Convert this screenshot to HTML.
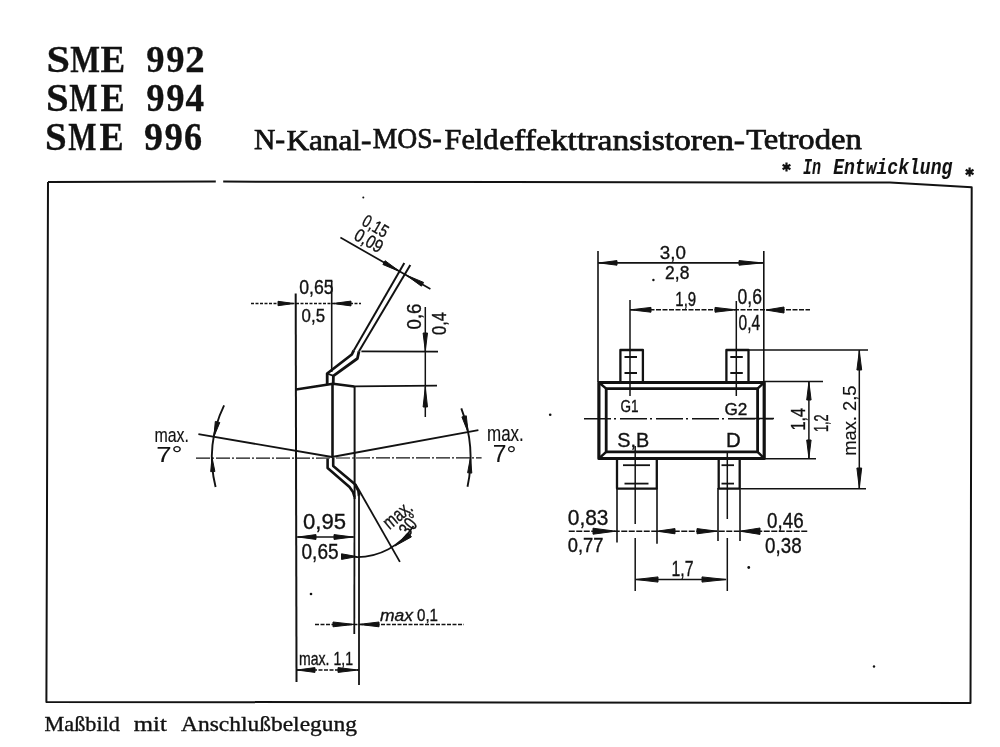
<!DOCTYPE html>
<html><head><meta charset="utf-8">
<style>
html,body{margin:0;padding:0;background:#fff;}
body{width:1000px;height:747px;position:relative;overflow:hidden;}
svg{position:absolute;left:0;top:0;will-change:transform;}
</style></head><body>
<svg width="1000" height="747" viewBox="0 0 1000 747">
<text x="46.50" y="71.60" font-size="38.32" textLength="23.50" lengthAdjust="spacingAndGlyphs" font-family="Liberation Serif" font-weight="bold" font-style="normal" fill="#121212" stroke="#121212" stroke-width="0.3">S</text>
<text x="70.20" y="71.60" font-size="38.32" textLength="29.70" lengthAdjust="spacingAndGlyphs" font-family="Liberation Serif" font-weight="bold" font-style="normal" fill="#121212" stroke="#121212" stroke-width="0.3">M</text>
<text x="100.40" y="71.60" font-size="38.32" textLength="24.70" lengthAdjust="spacingAndGlyphs" font-family="Liberation Serif" font-weight="bold" font-style="normal" fill="#121212" stroke="#121212" stroke-width="0.3">E</text>
<text x="146.20" y="71.60" font-size="38.32" textLength="18.30" lengthAdjust="spacingAndGlyphs" font-family="Liberation Serif" font-weight="bold" font-style="normal" fill="#121212" stroke="#121212" stroke-width="0.3">9</text>
<text x="166.20" y="71.60" font-size="38.32" textLength="18.30" lengthAdjust="spacingAndGlyphs" font-family="Liberation Serif" font-weight="bold" font-style="normal" fill="#121212" stroke="#121212" stroke-width="0.3">9</text>
<text x="185.20" y="71.60" font-size="38.32" textLength="19.40" lengthAdjust="spacingAndGlyphs" font-family="Liberation Serif" font-weight="bold" font-style="normal" fill="#121212" stroke="#121212" stroke-width="0.3">2</text>
<text x="46.00" y="110.90" font-size="39.39" textLength="22.70" lengthAdjust="spacingAndGlyphs" font-family="Liberation Serif" font-weight="bold" font-style="normal" fill="#121212" stroke="#121212" stroke-width="0.3">S</text>
<text x="69.20" y="110.90" font-size="39.39" textLength="28.20" lengthAdjust="spacingAndGlyphs" font-family="Liberation Serif" font-weight="bold" font-style="normal" fill="#121212" stroke="#121212" stroke-width="0.3">M</text>
<text x="100.40" y="110.90" font-size="39.39" textLength="24.20" lengthAdjust="spacingAndGlyphs" font-family="Liberation Serif" font-weight="bold" font-style="normal" fill="#121212" stroke="#121212" stroke-width="0.3">E</text>
<text x="146.20" y="110.90" font-size="39.39" textLength="18.30" lengthAdjust="spacingAndGlyphs" font-family="Liberation Serif" font-weight="bold" font-style="normal" fill="#121212" stroke="#121212" stroke-width="0.3">9</text>
<text x="166.20" y="110.90" font-size="39.39" textLength="18.30" lengthAdjust="spacingAndGlyphs" font-family="Liberation Serif" font-weight="bold" font-style="normal" fill="#121212" stroke="#121212" stroke-width="0.3">9</text>
<text x="185.60" y="110.90" font-size="39.39" textLength="18.60" lengthAdjust="spacingAndGlyphs" font-family="Liberation Serif" font-weight="bold" font-style="normal" fill="#121212" stroke="#121212" stroke-width="0.3">4</text>
<text x="45.00" y="150.40" font-size="39.39" textLength="21.70" lengthAdjust="spacingAndGlyphs" font-family="Liberation Serif" font-weight="bold" font-style="normal" fill="#121212" stroke="#121212" stroke-width="0.3">S</text>
<text x="68.20" y="150.40" font-size="39.39" textLength="28.20" lengthAdjust="spacingAndGlyphs" font-family="Liberation Serif" font-weight="bold" font-style="normal" fill="#121212" stroke="#121212" stroke-width="0.3">M</text>
<text x="99.40" y="150.40" font-size="39.39" textLength="24.20" lengthAdjust="spacingAndGlyphs" font-family="Liberation Serif" font-weight="bold" font-style="normal" fill="#121212" stroke="#121212" stroke-width="0.3">E</text>
<text x="144.00" y="150.40" font-size="39.39" textLength="19.00" lengthAdjust="spacingAndGlyphs" font-family="Liberation Serif" font-weight="bold" font-style="normal" fill="#121212" stroke="#121212" stroke-width="0.3">9</text>
<text x="164.60" y="150.40" font-size="39.39" textLength="18.40" lengthAdjust="spacingAndGlyphs" font-family="Liberation Serif" font-weight="bold" font-style="normal" fill="#121212" stroke="#121212" stroke-width="0.3">9</text>
<text x="184.00" y="150.40" font-size="39.39" textLength="18.10" lengthAdjust="spacingAndGlyphs" font-family="Liberation Serif" font-weight="bold" font-style="normal" fill="#121212" stroke="#121212" stroke-width="0.3">6</text>
<text x="254.00" y="149.00" font-size="29.92" textLength="31.20" lengthAdjust="spacingAndGlyphs" font-family="Liberation Serif" font-weight="normal" font-style="normal" fill="#121212" stroke="#121212" stroke-width="0.75">N-</text>
<text x="286.40" y="150.00" font-size="29.92" textLength="85.00" lengthAdjust="spacingAndGlyphs" font-family="Liberation Serif" font-weight="normal" font-style="normal" fill="#121212" stroke="#121212" stroke-width="0.75">Kanal-</text>
<text x="372.80" y="148.40" font-size="29.92" textLength="69.00" lengthAdjust="spacingAndGlyphs" font-family="Liberation Serif" font-weight="normal" font-style="normal" fill="#121212" stroke="#121212" stroke-width="0.75">MOS-</text>
<text x="444.60" y="149.40" font-size="29.92" textLength="53.80" lengthAdjust="spacingAndGlyphs" font-family="Liberation Serif" font-weight="normal" font-style="normal" fill="#121212" stroke="#121212" stroke-width="0.75">Feld</text>
<text x="499.20" y="150.40" font-size="29.92" textLength="245.80" lengthAdjust="spacingAndGlyphs" font-family="Liberation Serif" font-weight="normal" font-style="normal" fill="#121212" stroke="#121212" stroke-width="0.75">effekttransistoren-</text>
<text x="746.20" y="149.40" font-size="29.92" textLength="115.60" lengthAdjust="spacingAndGlyphs" font-family="Liberation Serif" font-weight="normal" font-style="normal" fill="#121212" stroke="#121212" stroke-width="0.75">Tetroden</text>
<text x="803.00" y="173.50" font-size="21.70" textLength="18.00" lengthAdjust="spacingAndGlyphs" font-family="Liberation Mono" font-weight="bold" font-style="italic" fill="#121212" stroke="#121212" stroke-width="0.1">In</text>
<text x="833.20" y="173.60" font-size="21.70" textLength="119.20" lengthAdjust="spacingAndGlyphs" font-family="Liberation Mono" font-weight="bold" font-style="italic" fill="#121212" stroke="#121212" stroke-width="0.1">Entwicklung</text>
<path d="M786.5 162.5 L786.5 171.5 M782.6 164.8 L790.4 169.2 M790.4 164.8 L782.6 169.2 " stroke="#121212" stroke-width="2.2" fill="none" stroke-linejoin="round"/>
<path d="M969.6 167.5 L969.6 176.5 M965.7 169.8 L973.5 174.2 M973.5 169.8 L965.7 174.2 " stroke="#121212" stroke-width="2.2" fill="none" stroke-linejoin="round"/>
<text x="44.60" y="730.60" font-size="20.76" textLength="75.40" lengthAdjust="spacingAndGlyphs" font-family="Liberation Serif" font-weight="normal" font-style="normal" fill="#121212" stroke="#121212" stroke-width="0.35">Maßbild</text>
<text x="133.80" y="730.60" font-size="20.76" textLength="33.00" lengthAdjust="spacingAndGlyphs" font-family="Liberation Serif" font-weight="normal" font-style="normal" fill="#121212" stroke="#121212" stroke-width="0.35">mit</text>
<text x="181.00" y="730.60" font-size="20.76" textLength="176.00" lengthAdjust="spacingAndGlyphs" font-family="Liberation Serif" font-weight="normal" font-style="normal" fill="#121212" stroke="#121212" stroke-width="0.35">Anschlußbelegung</text>
<path d="M48 182 L215.8 181.4" stroke="#121212" stroke-width="2.0" fill="none" stroke-linejoin="round"/>
<path d="M223.2 181.6 L890 182.6 L971.7 187.3 L970.5 702.9 L46.4 701.9 L48 182" stroke="#121212" stroke-width="2.0" fill="none" stroke-linejoin="round"/>
<line x1="295.7" y1="293.5" x2="296.5" y2="682" stroke="#121212" stroke-width="2.0"/>
<line x1="331.7" y1="281" x2="331.7" y2="372" stroke="#121212" stroke-width="1.6"/>
<line x1="251" y1="303.5" x2="361" y2="303.5" stroke="#121212" stroke-width="1.4" stroke-dasharray="3,1.5"/>
<polygon points="294.0,303.5 278.0,301.3 278.0,305.7" fill="#121212" stroke="#121212" stroke-width="1" stroke-linejoin="round"/>
<polygon points="333.0,303.5 351.0,305.9 351.0,301.1" fill="#121212" stroke="#121212" stroke-width="1" stroke-linejoin="round"/>
<path d="M404.3 263 L353.8 350.4" stroke="#121212" stroke-width="2.0" fill="none" stroke-linejoin="round"/>
<path d="M353.8 350.4 L351.8 354.5 L327.2 373.5 L327.2 384" stroke="#121212" stroke-width="2.8" fill="none" stroke-linejoin="round"/>
<path d="M410.3 265 L359 351.2" stroke="#121212" stroke-width="2.0" fill="none" stroke-linejoin="round"/>
<path d="M359 351.2 L357.4 358.5 L333.4 375.8 L333.2 384" stroke="#121212" stroke-width="2.8" fill="none" stroke-linejoin="round"/>
<path d="M327.2 373.5 L333.4 375.8" stroke="#121212" stroke-width="1.8" fill="none" stroke-linejoin="round"/>
<line x1="340.4" y1="237.5" x2="430.4" y2="289" stroke="#121212" stroke-width="1.7"/>
<polygon points="400.0,271.7 385.1,260.7 382.9,264.5" fill="#121212" stroke="#121212" stroke-width="1" stroke-linejoin="round"/>
<polygon points="406.0,275.0 421.4,286.2 423.6,282.4" fill="#121212" stroke="#121212" stroke-width="1" stroke-linejoin="round"/>
<line x1="361.4" y1="351.4" x2="438" y2="351.6" stroke="#121212" stroke-width="1.6"/>
<line x1="354" y1="386.4" x2="437" y2="385.7" stroke="#121212" stroke-width="1.8"/>
<line x1="425.3" y1="307" x2="425.3" y2="417" stroke="#121212" stroke-width="1.5"/>
<polygon points="425.3,351.0 427.5,333.0 423.1,333.0" fill="#121212" stroke="#121212" stroke-width="1" stroke-linejoin="round"/>
<polygon points="425.3,387.0 423.1,407.0 427.5,407.0" fill="#121212" stroke="#121212" stroke-width="1" stroke-linejoin="round"/>
<path d="M296 389.5 L333 383.8 L354.2 386.6" stroke="#121212" stroke-width="2.5" fill="none" stroke-linejoin="round"/>
<line x1="332.5" y1="384" x2="332.5" y2="456.5" stroke="#121212" stroke-width="2.6"/>
<line x1="354.6" y1="386" x2="354.6" y2="499" stroke="#121212" stroke-width="2.0"/>
<path d="M198.4 434.2 L332 457 L478.4 430.2" stroke="#121212" stroke-width="1.8" fill="none" stroke-linejoin="round"/>
<line x1="196" y1="458.2" x2="481.6" y2="457.8" stroke="#121212" stroke-width="1.2" stroke-dasharray="14,2,2,2"/>
<path d="M327.6 458.5 L327.6 468 L349.5 487 L353 492 L354.5 497" stroke="#121212" stroke-width="2.6" fill="none" stroke-linejoin="round"/>
<line x1="354.5" y1="497" x2="354.3" y2="634" stroke="#121212" stroke-width="1.8"/>
<path d="M333.2 458 L333.2 466 L354.4 483.7 L358.4 491 L359 496" stroke="#121212" stroke-width="2.6" fill="none" stroke-linejoin="round"/>
<line x1="359" y1="496" x2="359" y2="685" stroke="#121212" stroke-width="1.8"/>
<line x1="355.5" y1="484" x2="399.9" y2="561.9" stroke="#121212" stroke-width="1.8"/>
<path d="M215.6 487.0 A120 120 0 0 1 224.1 405.4" stroke="#121212" stroke-width="1.9" fill="none" stroke-linejoin="round"/>
<path d="M461.3 408.4 A138.5 138.5 0 0 1 467.5 486.8" stroke="#121212" stroke-width="1.9" fill="none" stroke-linejoin="round"/>
<polygon points="213.9,436.7 219.8,422.5 215.3,421.4" fill="#121212" stroke="#121212" stroke-width="1" stroke-linejoin="round"/>
<polygon points="212.0,457.4 210.7,471.7 214.9,471.5" fill="#121212" stroke="#121212" stroke-width="1" stroke-linejoin="round"/>
<polygon points="468.1,432.5 466.3,415.8 461.9,416.9" fill="#121212" stroke="#121212" stroke-width="1" stroke-linejoin="round"/>
<polygon points="470.5,457.5 467.6,472.8 471.8,473.1" fill="#121212" stroke="#121212" stroke-width="1" stroke-linejoin="round"/>
<line x1="296.5" y1="537" x2="355" y2="537" stroke="#121212" stroke-width="1.6"/>
<polygon points="298.0,537.0 316.0,539.4 316.0,534.6" fill="#121212" stroke="#121212" stroke-width="1" stroke-linejoin="round"/>
<polygon points="353.0,537.0 334.0,534.6 334.0,539.4" fill="#121212" stroke="#121212" stroke-width="1" stroke-linejoin="round"/>
<polygon points="357.0,556.6 341.5,553.8 341.5,559.4" fill="#121212" stroke="#121212" stroke-width="1" stroke-linejoin="round"/>
<path d="M413.5 526.0 A67 67 0 0 1 355.2 557.0" stroke="#121212" stroke-width="1.7" fill="none" stroke-linejoin="round"/>
<polygon points="395.0,546.0 411.4,536.9 408.6,533.1" fill="#121212" stroke="#121212" stroke-width="1" stroke-linejoin="round"/>
<line x1="315" y1="624.4" x2="464" y2="624.4" stroke="#121212" stroke-width="1.5" stroke-dasharray="4,1.5"/>
<polygon points="354.0,624.4 333.0,622.0 333.0,626.8" fill="#121212" stroke="#121212" stroke-width="1" stroke-linejoin="round"/>
<polygon points="359.0,624.4 379.0,626.8 379.0,622.0" fill="#121212" stroke="#121212" stroke-width="1" stroke-linejoin="round"/>
<line x1="296.5" y1="670" x2="359" y2="670" stroke="#121212" stroke-width="1.5" stroke-dasharray="4,1.5"/>
<polygon points="297.0,670.0 315.0,672.4 315.0,667.6" fill="#121212" stroke="#121212" stroke-width="1" stroke-linejoin="round"/>
<polygon points="358.0,670.0 338.0,667.6 338.0,672.4" fill="#121212" stroke="#121212" stroke-width="1" stroke-linejoin="round"/>
<line x1="598" y1="251" x2="598" y2="382" stroke="#121212" stroke-width="1.6"/>
<line x1="763.8" y1="251" x2="763.8" y2="459" stroke="#121212" stroke-width="1.6"/>
<line x1="598" y1="262.9" x2="763.8" y2="262.9" stroke="#121212" stroke-width="1.7"/>
<polygon points="599.0,262.9 617.0,265.2 617.0,260.6" fill="#121212" stroke="#121212" stroke-width="1" stroke-linejoin="round"/>
<polygon points="762.5,262.9 739.0,260.6 739.0,265.2" fill="#121212" stroke="#121212" stroke-width="1" stroke-linejoin="round"/>
<circle cx="653.4" cy="280" r="1.2" fill="#121212"/>
<line x1="630" y1="300" x2="630" y2="396" stroke="#121212" stroke-width="1.5"/>
<line x1="736.3" y1="301" x2="736.3" y2="396" stroke="#121212" stroke-width="1.5"/>
<line x1="630" y1="309.8" x2="810" y2="309.8" stroke="#121212" stroke-width="1.4" stroke-dasharray="5,1.5"/>
<polygon points="630.5,309.8 651.0,312.2 651.0,307.4" fill="#121212" stroke="#121212" stroke-width="1" stroke-linejoin="round"/>
<polygon points="735.5,309.8 715.0,307.4 715.0,312.2" fill="#121212" stroke="#121212" stroke-width="1" stroke-linejoin="round"/>
<polygon points="766.0,310.0 784.0,313.0 784.0,307.0" fill="#121212" stroke="#121212" stroke-width="1" stroke-linejoin="round"/>
<path d="M620.4 381.8 L620.4 350 L642.9 350 L642.9 381.8" stroke="#121212" stroke-width="2.3" fill="none" stroke-linejoin="round"/>
<path d="M726.4 381.8 L726.4 350 L748.5 350 L748.5 381.8" stroke="#121212" stroke-width="2.3" fill="none" stroke-linejoin="round"/>
<line x1="624.5" y1="357" x2="637.0" y2="357" stroke="#121212" stroke-width="2.0"/>
<line x1="624.5" y1="373" x2="637.0" y2="373" stroke="#121212" stroke-width="2.0"/>
<line x1="730.3" y1="357" x2="742.8" y2="357" stroke="#121212" stroke-width="2.0"/>
<line x1="730.3" y1="373" x2="742.8" y2="373" stroke="#121212" stroke-width="2.0"/>
<path d="M617 458.7 L617 488.6 L656.8 488.6 L656.8 458.7" stroke="#121212" stroke-width="2.3" fill="none" stroke-linejoin="round"/>
<path d="M718.7 458.7 L718.7 488.6 L739.7 488.6 L739.7 458.7" stroke="#121212" stroke-width="2.3" fill="none" stroke-linejoin="round"/>
<line x1="635.2" y1="446" x2="635.2" y2="524" stroke="#121212" stroke-width="1.5"/>
<line x1="635.2" y1="538" x2="635.2" y2="591" stroke="#121212" stroke-width="1.5"/>
<line x1="727.3" y1="452" x2="727.3" y2="519" stroke="#121212" stroke-width="1.5"/>
<line x1="727.3" y1="538" x2="727.3" y2="591" stroke="#121212" stroke-width="1.5"/>
<line x1="617" y1="488" x2="617" y2="542.5" stroke="#121212" stroke-width="1.6"/>
<line x1="657" y1="488" x2="657" y2="543.7" stroke="#121212" stroke-width="1.6"/>
<line x1="718" y1="488" x2="718" y2="541" stroke="#121212" stroke-width="1.6"/>
<line x1="740" y1="488" x2="740" y2="541" stroke="#121212" stroke-width="1.6"/>
<line x1="623" y1="465.2" x2="650" y2="465.2" stroke="#121212" stroke-width="1.8"/>
<line x1="624.5" y1="483.6" x2="648.5" y2="483.6" stroke="#121212" stroke-width="1.8"/>
<line x1="721.5" y1="465.2" x2="734" y2="465.2" stroke="#121212" stroke-width="1.8"/>
<line x1="721.5" y1="483.6" x2="734" y2="483.6" stroke="#121212" stroke-width="1.8"/>
<path d="M598.9 382.5 L764.2 382.5 L764.2 458.5 L598.9 458.5 Z" stroke="#121212" stroke-width="3.2" fill="none" stroke-linejoin="round"/>
<path d="M606.2 388.6 L757.6 388.6 L757.6 451.8 L606.2 451.8 Z" stroke="#121212" stroke-width="2.8" fill="none" stroke-linejoin="round"/>
<path d="M598.9 382.5 L606.2 388.6 M764.2 382.5 L757.6 388.6 M764.2 458.5 L757.6 451.8 M598.9 458.5 L606.2 451.8" stroke="#121212" stroke-width="2.4" fill="none" stroke-linejoin="round"/>
<line x1="584" y1="418.7" x2="773" y2="418.7" stroke="#121212" stroke-width="1.5" stroke-dasharray="27,3,2,4"/>
<line x1="740" y1="350" x2="868" y2="350" stroke="#121212" stroke-width="1.6"/>
<line x1="764" y1="381.4" x2="823" y2="381.4" stroke="#121212" stroke-width="1.5"/>
<line x1="764" y1="458.7" x2="816" y2="458.7" stroke="#121212" stroke-width="1.5"/>
<line x1="741" y1="488.7" x2="866" y2="488.7" stroke="#121212" stroke-width="1.6"/>
<line x1="740" y1="418.5" x2="774" y2="418.5" stroke="#121212" stroke-width="1.4"/>
<line x1="808.9" y1="381.4" x2="808.9" y2="458.7" stroke="#121212" stroke-width="1.5"/>
<polygon points="808.9,382.0 806.7,400.0 811.1,400.0" fill="#121212" stroke="#121212" stroke-width="1" stroke-linejoin="round"/>
<polygon points="808.9,458.0 811.1,440.0 806.7,440.0" fill="#121212" stroke="#121212" stroke-width="1" stroke-linejoin="round"/>
<line x1="859.3" y1="350" x2="859.3" y2="488.7" stroke="#121212" stroke-width="1.5"/>
<polygon points="859.3,351.0 856.9,370.0 861.7,370.0" fill="#121212" stroke="#121212" stroke-width="1" stroke-linejoin="round"/>
<polygon points="859.3,488.0 861.7,468.0 856.9,468.0" fill="#121212" stroke="#121212" stroke-width="1" stroke-linejoin="round"/>
<line x1="568.75" y1="531.2" x2="808" y2="531.2" stroke="#121212" stroke-width="1.4" stroke-dasharray="6,1.5"/>
<polygon points="615.5,531.2 593.0,528.2 593.0,534.2" fill="#121212" stroke="#121212" stroke-width="1" stroke-linejoin="round"/>
<polygon points="657.0,531.2 675.0,533.8 675.0,528.6" fill="#121212" stroke="#121212" stroke-width="1" stroke-linejoin="round"/>
<polygon points="717.0,531.2 697.0,528.6 697.0,533.8" fill="#121212" stroke="#121212" stroke-width="1" stroke-linejoin="round"/>
<polygon points="740.0,531.2 760.0,534.4 760.0,528.0" fill="#121212" stroke="#121212" stroke-width="1" stroke-linejoin="round"/>
<line x1="635.5" y1="579.5" x2="726.2" y2="579.5" stroke="#121212" stroke-width="1.5"/>
<polygon points="636.0,579.5 658.0,582.1 658.0,576.9" fill="#121212" stroke="#121212" stroke-width="1" stroke-linejoin="round"/>
<polygon points="726.0,579.5 702.0,576.9 702.0,582.1" fill="#121212" stroke="#121212" stroke-width="1" stroke-linejoin="round"/>
<circle cx="550.2" cy="414.8" r="1.3" fill="#121212"/>
<circle cx="311" cy="594" r="1.3" fill="#121212"/>
<circle cx="748.75" cy="567.5" r="1.4" fill="#121212"/>
<circle cx="874" cy="666.5" r="1.2" fill="#121212"/>
<circle cx="363.3" cy="197.4" r="1.0" fill="#121212"/>
<text x="299.20" y="293.51" font-size="19.35" textLength="34.40" lengthAdjust="spacingAndGlyphs" font-family="Liberation Sans" font-weight="normal" font-style="normal" fill="#121212" stroke="#121212" stroke-width="0.35">0,65</text>
<text x="301.60" y="321.81" font-size="18.50" textLength="23.40" lengthAdjust="spacingAndGlyphs" font-family="Liberation Sans" font-weight="normal" font-style="normal" fill="#121212" stroke="#121212" stroke-width="0.35">0,5</text>
<g transform="translate(375.5,226) rotate(30)"><text x="-13.5" y="6.2" font-size="17.66" textLength="27.0" lengthAdjust="spacingAndGlyphs" font-family="Liberation Sans" font-style="normal" fill="#121212" stroke="#121212" stroke-width="0.35">0,15</text></g>
<g transform="translate(369,240.5) rotate(30)"><text x="-15.0" y="6.5" font-size="18.36" textLength="30.0" lengthAdjust="spacingAndGlyphs" font-family="Liberation Sans" font-style="normal" fill="#121212" stroke="#121212" stroke-width="0.35">0,09</text></g>
<g transform="translate(414.2,316.5) rotate(-90)"><text x="-13.0" y="7.0" font-size="19.77" textLength="26.0" lengthAdjust="spacingAndGlyphs" font-family="Liberation Sans" font-style="normal" fill="#121212" stroke="#121212" stroke-width="0.35">0,6</text></g>
<g transform="translate(439.2,323.5) rotate(-90)"><text x="-11.5" y="7.0" font-size="19.77" textLength="23.0" lengthAdjust="spacingAndGlyphs" font-family="Liberation Sans" font-style="normal" fill="#121212" stroke="#121212" stroke-width="0.35">0,4</text></g>
<text x="154.40" y="442.40" font-size="19.70" textLength="34.60" lengthAdjust="spacingAndGlyphs" font-family="Liberation Sans" font-weight="normal" font-style="normal" fill="#121212" stroke="#121212" stroke-width="0.15">max.</text>
<text x="156.20" y="462.18" font-size="21.75" textLength="26.40" lengthAdjust="spacingAndGlyphs" font-family="Liberation Sans" font-weight="normal" font-style="normal" fill="#121212" stroke="#121212" stroke-width="0.05">7°</text>
<text x="487.00" y="441.00" font-size="21.21" textLength="36.80" lengthAdjust="spacingAndGlyphs" font-family="Liberation Sans" font-weight="normal" font-style="normal" fill="#121212" stroke="#121212" stroke-width="0.15">max.</text>
<text x="492.80" y="461.76" font-size="23.73" textLength="23.60" lengthAdjust="spacingAndGlyphs" font-family="Liberation Sans" font-weight="normal" font-style="normal" fill="#121212" stroke="#121212" stroke-width="0.05">7°</text>
<text x="303.00" y="529.37" font-size="22.74" textLength="43.00" lengthAdjust="spacingAndGlyphs" font-family="Liberation Sans" font-weight="normal" font-style="normal" fill="#121212" stroke="#121212" stroke-width="0.35">0,95</text>
<text x="301.50" y="559.48" font-size="21.61" textLength="37.10" lengthAdjust="spacingAndGlyphs" font-family="Liberation Sans" font-weight="normal" font-style="normal" fill="#121212" stroke="#121212" stroke-width="0.35">0,65</text>
<g transform="translate(398.5,516) rotate(-40)"><text x="-16.0" y="5.2" font-size="19.89" textLength="32.0" lengthAdjust="spacingAndGlyphs" font-family="Liberation Sans" font-style="normal" fill="#121212" stroke="#121212" stroke-width="0.35">max.</text></g>
<g transform="translate(409.5,524.5) rotate(-52)"><text x="-11.0" y="7.0" font-size="19.77" textLength="22.0" lengthAdjust="spacingAndGlyphs" font-family="Liberation Sans" font-style="normal" fill="#121212" stroke="#121212" stroke-width="0.35">30°</text></g>
<text x="380.00" y="621.00" font-size="17.05" textLength="33.00" lengthAdjust="spacingAndGlyphs" font-family="Liberation Sans" font-weight="normal" font-style="italic" fill="#121212" stroke="#121212" stroke-width="0.35">max</text>
<text x="417.00" y="621.34" font-size="16.24" textLength="21.00" lengthAdjust="spacingAndGlyphs" font-family="Liberation Sans" font-weight="normal" font-style="normal" fill="#121212" stroke="#121212" stroke-width="0.35">0,1</text>
<text x="299.00" y="664.82" font-size="18.36" textLength="54.00" lengthAdjust="spacingAndGlyphs" font-family="Liberation Sans" font-weight="normal" font-style="normal" fill="#121212" stroke="#121212" stroke-width="0.35">max. 1,1</text>
<text x="659.80" y="258.71" font-size="18.93" textLength="26.10" lengthAdjust="spacingAndGlyphs" font-family="Liberation Sans" font-weight="normal" font-style="normal" fill="#121212" stroke="#121212" stroke-width="0.35">3,0</text>
<text x="665.10" y="279.11" font-size="18.79" textLength="24.30" lengthAdjust="spacingAndGlyphs" font-family="Liberation Sans" font-weight="normal" font-style="normal" fill="#121212" stroke="#121212" stroke-width="0.35">2,8</text>
<text x="675.30" y="306.49" font-size="20.76" textLength="20.90" lengthAdjust="spacingAndGlyphs" font-family="Liberation Sans" font-weight="normal" font-style="normal" fill="#121212" stroke="#121212" stroke-width="0.35">1,9</text>
<text x="737.50" y="303.79" font-size="21.19" textLength="24.50" lengthAdjust="spacingAndGlyphs" font-family="Liberation Sans" font-weight="normal" font-style="normal" fill="#121212" stroke="#121212" stroke-width="0.35">0,6</text>
<text x="738.50" y="330.39" font-size="21.33" textLength="21.60" lengthAdjust="spacingAndGlyphs" font-family="Liberation Sans" font-weight="normal" font-style="normal" fill="#121212" stroke="#121212" stroke-width="0.35">0,4</text>
<text x="620.40" y="411.58" font-size="17.19" textLength="18.10" lengthAdjust="spacingAndGlyphs" font-family="Liberation Sans" font-weight="normal" font-style="normal" fill="#121212" stroke="#121212" stroke-width="0.35">G1</text>
<text x="724.50" y="414.58" font-size="17.19" textLength="22.90" lengthAdjust="spacingAndGlyphs" font-family="Liberation Sans" font-weight="normal" font-style="normal" fill="#121212" stroke="#121212" stroke-width="0.35">G2</text>
<text x="617.25" y="446.80" font-size="20.42" textLength="32.00" lengthAdjust="spacingAndGlyphs" font-family="Liberation Sans" font-weight="normal" font-style="normal" fill="#121212" stroke="#121212" stroke-width="0.35">S,B</text>
<text x="726.00" y="447.00" font-size="20.71" textLength="14.75" lengthAdjust="spacingAndGlyphs" font-family="Liberation Sans" font-weight="normal" font-style="normal" fill="#121212" stroke="#121212" stroke-width="0.35">D</text>
<g transform="translate(798.3,419.3) rotate(-90)"><text x="-11.3" y="7.0" font-size="19.77" textLength="22.6" lengthAdjust="spacingAndGlyphs" font-family="Liberation Sans" font-style="normal" fill="#121212" stroke="#121212" stroke-width="0.35">1,4</text></g>
<g transform="translate(820.3,423.3) rotate(-90)"><text x="-8.8" y="7.2" font-size="20.48" textLength="17.6" lengthAdjust="spacingAndGlyphs" font-family="Liberation Sans" font-style="normal" fill="#121212" stroke="#121212" stroke-width="0.35">1,2</text></g>
<g transform="translate(849.6,420.7) rotate(-90)"><text x="-35.1" y="6.5" font-size="18.36" textLength="70.3" lengthAdjust="spacingAndGlyphs" font-family="Liberation Sans" font-style="normal" fill="#121212" stroke="#121212" stroke-width="0.15">max. 2,5</text></g>
<text x="567.75" y="525.02" font-size="22.95" textLength="40.75" lengthAdjust="spacingAndGlyphs" font-family="Liberation Sans" font-weight="normal" font-style="normal" fill="#121212" stroke="#121212" stroke-width="0.35">0,83</text>
<text x="567.75" y="552.31" font-size="19.42" textLength="35.75" lengthAdjust="spacingAndGlyphs" font-family="Liberation Sans" font-weight="normal" font-style="normal" fill="#121212" stroke="#121212" stroke-width="0.35">0,77</text>
<text x="767.00" y="527.58" font-size="21.75" textLength="36.60" lengthAdjust="spacingAndGlyphs" font-family="Liberation Sans" font-weight="normal" font-style="normal" fill="#121212" stroke="#121212" stroke-width="0.35">0,46</text>
<text x="765.00" y="553.28" font-size="21.75" textLength="36.60" lengthAdjust="spacingAndGlyphs" font-family="Liberation Sans" font-weight="normal" font-style="normal" fill="#121212" stroke="#121212" stroke-width="0.35">0,38</text>
<text x="671.50" y="575.79" font-size="21.19" textLength="22.00" lengthAdjust="spacingAndGlyphs" font-family="Liberation Sans" font-weight="normal" font-style="normal" fill="#121212" stroke="#121212" stroke-width="0.35">1,7</text>
</svg>
</body></html>
